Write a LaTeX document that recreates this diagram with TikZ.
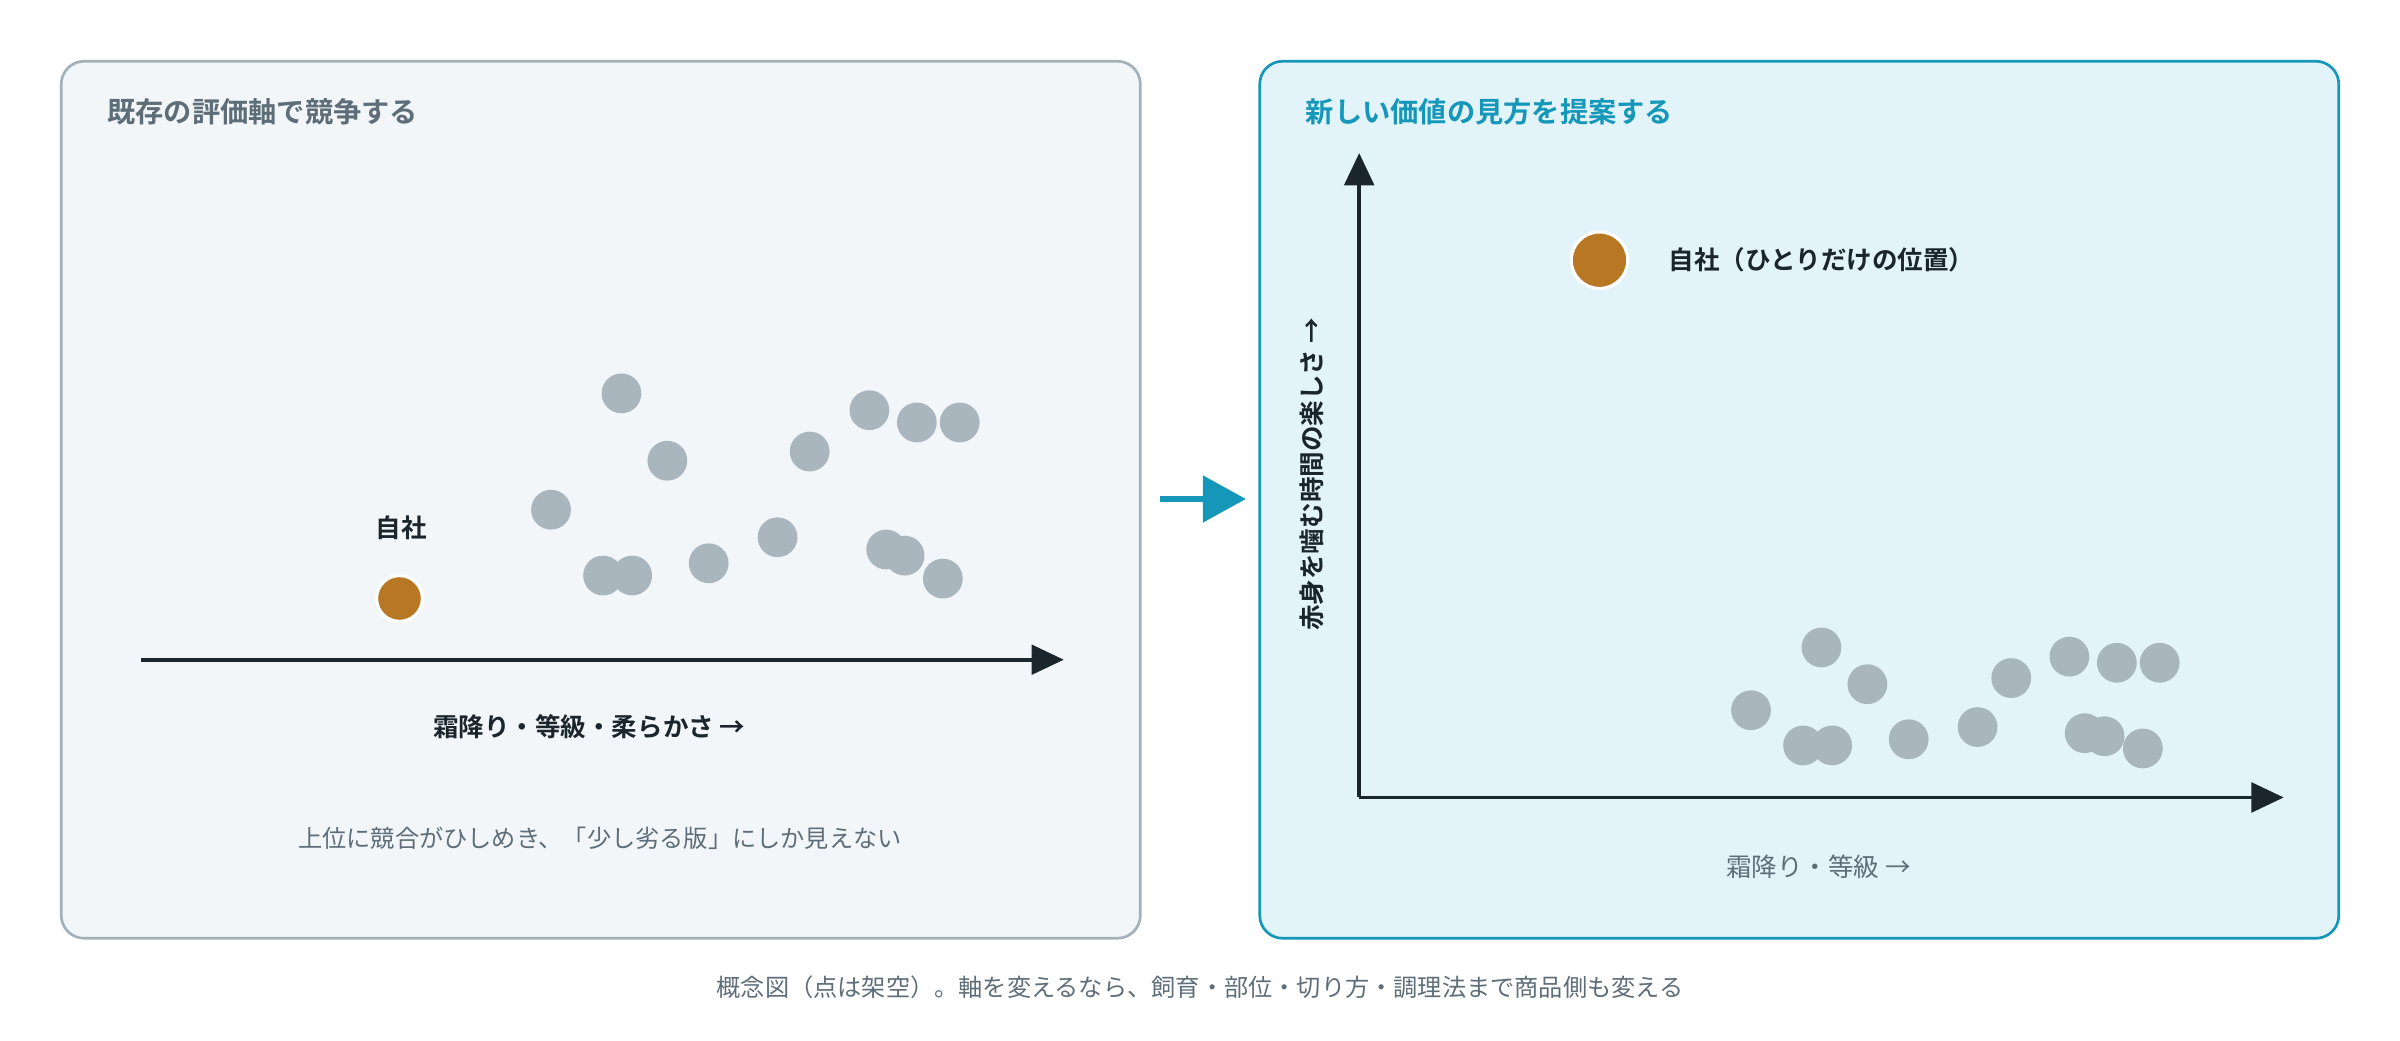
\documentclass[tikz,border=0pt]{standalone}
\usepackage{fontspec}
\setmainfont{Noto Sans CJK JP}[BoldFont={Noto Sans CJK JP Bold}]
\usetikzlibrary{arrows.meta}
\definecolor{dark}{HTML}{1B262C}
\definecolor{txtgray}{HTML}{5E6E78}
\definecolor{dotgray}{HTML}{A9B6BD}
\definecolor{org}{HTML}{B87823}
\definecolor{tealc}{HTML}{1597B9}
\definecolor{lfill}{HTML}{F2F6F9}
\definecolor{ldraw}{HTML}{A3B1BA}
\definecolor{rfill}{HTML}{E3F3FA}
\begin{document}
\begin{tikzpicture}[x=0.02cm,y=-0.02cm,
  panel/.style={rounded corners=0.3cm,line width=1pt},
  gdot/.style={circle,fill=dotgray,minimum size=0.52cm,inner sep=0},
  odot/.style={circle,fill=org,draw=white,line width=1.2pt,inner sep=0},
  axis/.style={draw=dark,line width=1.4pt,-{Triangle[length=12pt,width=11pt]}},
  ttl/.style={font=\bfseries\fontsize{10.5}{12}\selectfont,anchor=west},
  lbl/.style={font=\bfseries\fontsize{9.5}{11}\selectfont,text=dark},
  captxt/.style={font=\fontsize{9}{11}\selectfont,text=txtgray}]
\useasboundingbox (0,0) rectangle (1568,680);
\draw[panel,fill=lfill,draw=ldraw] (40,40) rectangle (745,613);
\node[ttl,text=txtgray] (t1) at (64,73) {既存の評価軸で競争する};
\coordinate (a1) at (92,431); \coordinate (a2) at (695,431);
\draw[axis] (a1) -- (a2);
\node[lbl] (xl1) at (385,475) {霜降り・等級・柔らかさ →};
\node[captxt] (c1) at (392,548) {上位に競合がひしめき、「少し劣る版」にしか見えない};
\foreach \x/\y [count=\i] in {406/257,436/301,360/333,394/376,413/376,463/368,508/351,529/295,568/268,599/276,627/276,579/359,591/363,616/378}
  \node[gdot] (l\i) at (\x,\y) {};
\node[odot,minimum size=0.6cm] (me1) at (261,391) {};
\node[lbl] (me1l) at (262,345) {自社};
\coordinate (m1) at (758,326); \coordinate (m2) at (814,326);
\draw[draw=tealc,line width=2.2pt,-{Triangle[length=16pt,width=17pt]}] (m1) -- (m2);
\draw[panel,fill=rfill,draw=tealc] (823,40) rectangle (1528,613);
\node[ttl,text=tealc] (t2) at (847,73) {新しい価値の見方を提案する};
\coordinate (o) at (888,521); \coordinate (yt) at (888,100); \coordinate (xt) at (1492,521);
\draw[axis] (o) -- (yt);
\draw[axis] (o) -- (xt);
\node[lbl,rotate=90] (yl) at (857,310) {赤身を噛む時間の楽しさ →};
\node[captxt,font=\fontsize{9.5}{11}\selectfont] (xl2) at (1188,566) {霜降り・等級 →};
\foreach \x/\y [count=\i] in {1190/423,1220/447,1144/464,1178/487,1197/487,1247/483,1292/475,1314/443,1352/429,1383/433,1411/433,1362/479,1375/481,1400/489}
  \node[gdot] (r\i) at (\x,\y) {};
\node[odot,minimum size=0.74cm] (me2) at (1045,170) {};
\node[lbl,anchor=west] (me2l) at (1084,170) {自社（ひとりだけの位置）};
\node[captxt] (c2) at (784,645) {概念図（点は架空）。軸を変えるなら、飼育・部位・切り方・調理法まで商品側も変える};
\end{tikzpicture}
\end{document}
